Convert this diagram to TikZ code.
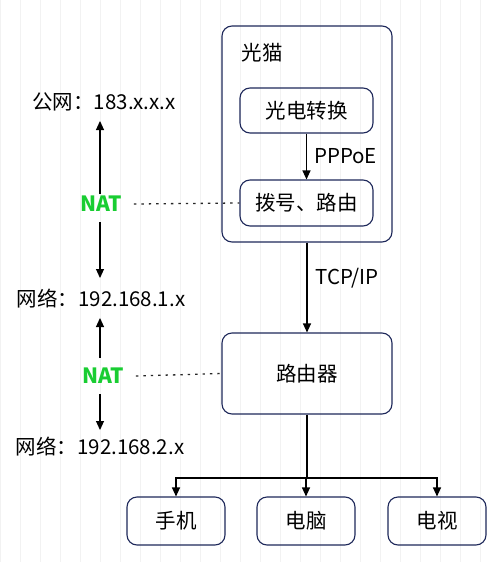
\documentclass[tikz,border=0pt]{standalone}
\usepackage{fontspec}
\setmainfont{Noto Sans CJK SC}
\usetikzlibrary{arrows.meta}
\definecolor{navy}{RGB}{30,40,90}
\definecolor{natgreen}{RGB}{25,205,50}
\begin{document}
\begin{tikzpicture}[x=1pt,y=-1pt,
  box/.style={draw=navy,line width=1.1pt,rounded corners=10pt,font=\fontsize{20.5}{24}\selectfont},
  lbl/.style={font=\fontsize{20.5}{24}\selectfont,inner sep=0pt},
  nat/.style={font=\fontsize{21}{24}\selectfont\bfseries,text=natgreen,inner sep=2pt},
  arr/.style={-{Triangle[length=9pt,width=8pt]},line width=1.1pt},
  dot/.style={dash pattern=on 2.4pt off 5pt,line width=1.3pt,draw=black!85}]
\useasboundingbox (0,0) rectangle (500,562);
\fill[white] (0,0) rectangle (500,562);
\draw[black!5,step=20] (0,0) grid (500,562);
% modem group
\node[box,minimum width=170pt,minimum height=216pt] (modem) at (307,134) {};
\node[lbl] (modemlbl) at (262,53) {光猫};
\node[box,minimum width=133pt,minimum height=45pt] (oe) at (306.5,110.5) {光电转换};
\node[box,minimum width=133pt,minimum height=46pt] (dial) at (306.5,203) {拨号、路由};
\draw[arr] (oe) -- node[lbl,right=7pt] {PPPoE} (dial);
% router
\node[box,minimum width=170pt,minimum height=81pt] (router) at (307,373.5) {路由器};
\draw[arr] (modem.south) -- node[lbl,right=8pt,pos=0.4] {TCP/IP} (router.north);
% devices
\node[box,minimum width=98pt,minimum height=48pt] (phone) at (176,521) {手机};
\node[box,minimum width=98pt,minimum height=48pt] (pc) at (306,521) {电脑};
\node[box,minimum width=98pt,minimum height=48pt] (tv) at (437,521) {电视};
\coordinate (split) at (307,478);
\draw[line width=1.1pt] (router.south) -- (split);
\draw[arr] (split) -- (split -| pc.north) -- (pc.north);
\draw[arr] (split) -| (phone.north);
\draw[arr] (split) -| (tv.north);
% left side
\node[lbl] (pub) at (104,102) {公网：183.x.x.x};
\node[nat] (nat1) at (101,204) {NAT};
\node[lbl] (lan1) at (101,299) {网络：192.168.1.x};
\node[nat] (nat2) at (103,376) {NAT};
\node[lbl] (lan2) at (100,447) {网络：192.168.2.x};
\draw[arr] (100,194) -- (100,121);
\draw[arr] (100,222) -- (100,278);
\draw[arr] (100,358) -- (100,318);
\draw[arr] (100,394) -- (100,430);
\draw[dot] (nat1.east) ++(10,0) -- (dial.west);
\draw[dot] (nat2.east) ++(10,0) -- (router.west);
\end{tikzpicture}
\end{document}
